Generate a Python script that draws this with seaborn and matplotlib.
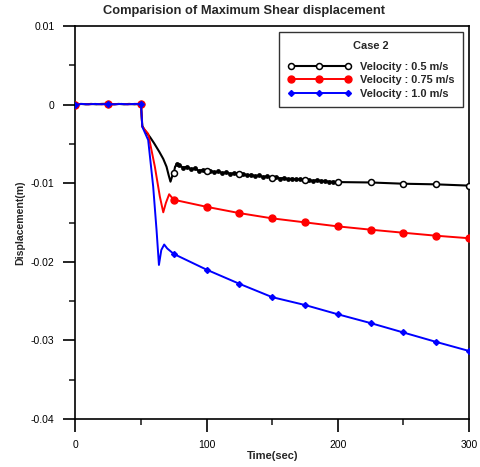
import numpy as np
import pandas as pd
import matplotlib
matplotlib.use("Agg")
import matplotlib.pyplot as plt
from matplotlib.lines import Line2D
from matplotlib.ticker import MultipleLocator
import seaborn as sns

# ---------------- data ----------------
series_labels = ["Velocity : 0.5 m/s", "Velocity : 0.75 m/s", "Velocity : 1.0 m/s"]
legend_title = "Case 2"
chart_title = "Comparision of Maximum Shear displacement"
x_label = "Time(sec)"
y_label = "Displacement(m)"

t_black = [0, 4, 8, 12, 16, 20, 25, 29, 33, 37, 41, 45, 50, 51, 53, 56.8, 60, 64, 67, 69.5,
           71, 72.5, 74, 75, 76, 77.5, 79, 82, 85, 88, 91, 94, 97, 100,
           103, 106, 109, 112, 115, 118, 121, 125, 128, 131, 134, 137, 140, 143, 146,
           150, 153, 156, 159, 162, 165, 168, 171, 175, 178, 181, 184, 187, 190, 193,
           196, 200, 225, 250, 275, 300]
v_black = [0.0, 0.0001, 0.00005, 0.0001, 0.00005, 0.0001, 0.00012, 0.00005, 0.0001, 0.00005,
           0.0001, 0.00005, 0.0001, -0.0027, -0.0033, -0.0041, -0.0049, -0.0060, -0.0069, -0.0079,
           -0.0089, -0.0098, -0.0090, -0.0087, -0.0079, -0.0075, -0.0077, -0.0080, -0.0079,
           -0.0082, -0.0081, -0.0084, -0.0083, -0.0085,
           -0.0084, -0.0086, -0.0085, -0.0087, -0.0086, -0.0088, -0.0087, -0.0088,
           -0.0088, -0.0090, -0.0089, -0.0091, -0.0090, -0.0092, -0.0091, -0.0093,
           -0.0092, -0.0094, -0.0093, -0.0095, -0.0094, -0.0095, -0.0095, -0.0096,
           -0.0096, -0.0097, -0.0096, -0.0097, -0.0097, -0.0098, -0.0098, -0.00985,
           -0.0099, -0.01006, -0.01014, -0.0103]

t_red = [0, 5, 10, 15, 20, 25, 30, 35, 40, 45, 50, 51, 55.5, 60.6, 64.4, 67, 69, 71.5,
         75, 100, 125, 150, 175, 200, 225, 250, 275, 300]
v_red = [0.0, 0.0001, 0.00005, 0.0001, 0.00005, 0.0001, 0.00005, 0.0001, 0.00005, 0.0001,
         0.0001, -0.0028, -0.0037, -0.0079, -0.0117, -0.0137, -0.0125, -0.0114,
         -0.0121, -0.0130, -0.0138, -0.01447, -0.01498, -0.01549, -0.01591, -0.0163,
         -0.01668, -0.0170]

t_blue = [0, 5, 10, 15, 20, 25, 30, 35, 40, 45, 50, 51, 55.5, 59.3, 61.9, 63.7, 65.5, 67.7,
          70, 75, 100, 125, 150, 175, 200, 225, 250, 275, 300]
v_blue = [0.0, 0.0001, 0.00005, 0.0001, 0.00005, 0.0001, 0.00005, 0.0001, 0.00005, 0.0001,
          0.0001, -0.0028, -0.0045, -0.0104, -0.0160, -0.0204, -0.0185, -0.0178,
          -0.0183, -0.0190, -0.0210, -0.0228, -0.0245, -0.0255, -0.02668, -0.0278,
          -0.0290, -0.0302, -0.03135]

x_ticks = [0, 100, 200, 300]
y_ticks = [0.01, 0, -0.01, -0.02, -0.03, -0.04]
y_tick_labels = ["0.01", "0", "-0.01", "-0.02", "-0.03", "-0.04"]

# ---------------- style ----------------
sns.set_style("ticks")
plt.rcParams["font.family"] = ["Liberation Sans", "DejaVu Sans"]

fig = plt.figure(figsize=(4.8, 4.67), dpi=100)
ax = fig.add_axes([0.157, 0.103, 0.820, 0.841])

styles = [
    dict(color="black", marker="o", mfc="white", mec="black", ms=4.3, mew=1.1, lw=1.5),
    dict(color="red", marker="o", mfc="red", mec="red", ms=5.0, mew=1.0, lw=1.4),
    dict(color="blue", marker="D", mfc="blue", mec="blue", ms=3.0, mew=1.0, lw=1.4),
]
data = [(t_black, v_black), (t_red, v_red), (t_blue, v_blue)]

handles = []
for i, ((t, v), st, lab) in enumerate(zip(data, styles, series_labels)):
    df = pd.DataFrame({"t": t, "v": v})
    marks = [k for k, tt in enumerate(t) if tt % 25 == 0]
    if i == 0:
        # dense, blobby noisy part of the black trace
        dense = df[(df.t >= 77) & (df.t <= 200) & (df.t % 25 != 0)]
        sns.scatterplot(data=dense, x="t", y="v", ax=ax, color="black", s=12,
                        linewidth=0, zorder=2)
    sns.lineplot(data=df, x="t", y="v", ax=ax, estimator=None, sort=False,
                 markevery=marks, zorder=3, **st)
    handles.append(Line2D([0], [0], label=lab, **st))

ax.set_xlim(0, 300)
ax.set_ylim(-0.04, 0.01)
ax.set_xticks(x_ticks)
ax.set_yticks(y_ticks)
ax.set_yticklabels(y_tick_labels)
ax.xaxis.set_minor_locator(MultipleLocator(50))
ax.yaxis.set_minor_locator(MultipleLocator(0.005))
ax.tick_params(axis="both", which="major", direction="out", length=9, width=1.2,
               labelsize=7.5, colors="black", pad=6)
ax.tick_params(axis="both", which="minor", direction="out", length=4.5, width=1.2)
ax.tick_params(top=False, right=False, which="both")
for sp in ax.spines.values():
    sp.set_visible(True)
    sp.set_linewidth(1.2)
    sp.set_color("black")

ax.set_xlabel(x_label, fontsize=8, fontweight="bold", labelpad=1)
ax.set_ylabel(y_label, fontsize=7.6, fontweight="bold", labelpad=4)
fig.text(0.508, 0.976, chart_title, fontsize=9.3, fontweight="bold",
         ha="center", va="center")

leg = ax.legend(handles=handles, title=legend_title, loc="upper right",
                bbox_to_anchor=(0.985, 0.985), numpoints=3, handlelength=5.8,
                fancybox=False, frameon=True, edgecolor="black",
                prop={"size": 7.9, "weight": "bold"}, borderpad=0.8,
                labelspacing=0.3, handletextpad=0.8, borderaxespad=0.0)
leg.get_title().set_fontweight("bold")
leg.get_title().set_fontsize(7.9)
leg.get_frame().set_linewidth(1.0)
leg._legend_box.sep = 8

fig.savefig("out.png", dpi=100)
